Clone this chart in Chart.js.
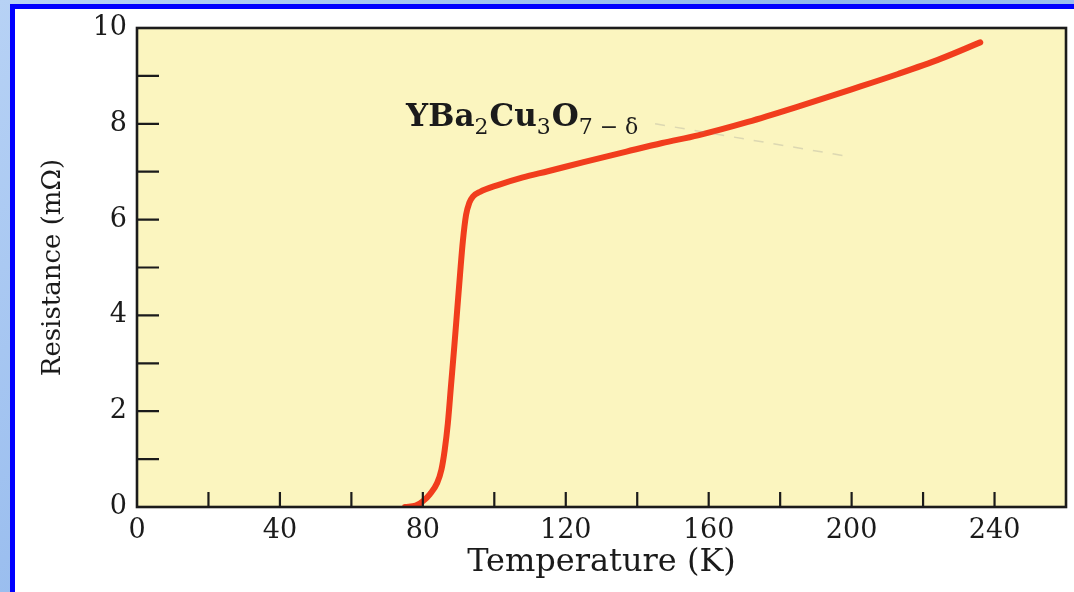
<!DOCTYPE html>
<html>
<head>
<meta charset="utf-8">
<script src="https://cdn.jsdelivr.net/npm/chart.js@4"></script>
<style>
  html, body { margin: 0; padding: 0; }
  body {
    width: 1074px; height: 592px; overflow: hidden; position: relative;
    background: linear-gradient(135deg, #b7d2f5 0%, #8fb6ec 50%, #b7d2f5 100%);
  }
  #frame {
    position: absolute; left: 10px; top: 4px; right: 0; bottom: 0;
    border-left: 5px solid #0000ff; border-top: 5px solid #0000ff;
    background: #ffffff;
  }
  #wrap { position: absolute; left: 0; top: 0; width: 1074px; height: 592px; }
</style>
</head>
<body>
<div id="frame"></div>
<div id="wrap"><canvas id="rtChart" width="1074" height="592"></canvas></div>
<script>
// =========================
// DATA
// =========================
const temperature = [75, 78, 80, 82, 84, 85.2, 86.1, 87, 87.9, 88.8, 89.6, 90.4, 91.2, 92.1, 93,
                     94, 96, 101, 108, 115, 125, 137, 147, 157, 171, 185, 200, 213, 225, 236];
const resistance  = [0, 0.03, 0.12, 0.27, 0.5, 0.78, 1.18, 1.75, 2.55, 3.35, 4.1, 4.85, 5.55, 6.1, 6.35,
                     6.48, 6.58, 6.72, 6.88, 7.01, 7.2, 7.42, 7.6, 7.76, 8.04, 8.36, 8.72, 9.04, 9.36, 9.7];

const xTickLabels = [0, 40, 80, 120, 160, 200, 240];
const yTickLabels = [0, 2, 4, 6, 8, 10];

// label + faint leader line pointing at the curve
const formulaParts = [['YBa', false], ['2', true], ['Cu', false], ['3', true], ['O', false], ['7 \u2212 \u03b4', true]];
const formulaAt = [75.3, 7.95];
const leaderFrom = [145, 8.0];
const leaderTo = [199, 7.32];

const PAPER = '#fbf5bf';
const INK = '#1b1b1b';
const CURVE = '#f13d1d';
const SERIF = '"DejaVu Serif", serif';

// =========================
// PLUGINS
// =========================
const paperPlugin = {
    id: 'paper',
    beforeDraw(chart) {
        const { ctx, chartArea: a } = chart;
        ctx.save();
        ctx.fillStyle = PAPER;
        ctx.fillRect(a.left, a.top, a.right - a.left, a.bottom - a.top);
        ctx.restore();
    }
};

const framePlugin = {
    id: 'frameTicks',
    afterDatasetsDraw(chart) {
        const { ctx, chartArea: a, scales: { x, y } } = chart;
        ctx.save();
        ctx.strokeStyle = INK;
        ctx.lineWidth = 2.6;
        ctx.strokeRect(a.left, a.top, a.right - a.left, a.bottom - a.top);

        // inward ticks
        ctx.lineWidth = 2.2;
        ctx.beginPath();
        x.ticks.forEach(t => {
            if (t.value <= x.min || t.value >= x.max) return;
            const px = x.getPixelForValue(t.value);
            ctx.moveTo(px, a.bottom);
            ctx.lineTo(px, a.bottom - 15);
        });
        y.ticks.forEach(t => {
            if (t.value <= y.min || t.value >= y.max) return;
            const py = y.getPixelForValue(t.value);
            ctx.moveTo(a.left, py);
            ctx.lineTo(a.left + 22, py);
        });
        ctx.stroke();

        // leader line
        ctx.strokeStyle = 'rgba(150,150,150,0.3)';
        ctx.lineWidth = 1.5;
        ctx.setLineDash([10, 10]);
        ctx.beginPath();
        ctx.moveTo(x.getPixelForValue(leaderFrom[0]), y.getPixelForValue(leaderFrom[1]));
        ctx.lineTo(x.getPixelForValue(leaderTo[0]), y.getPixelForValue(leaderTo[1]));
        ctx.stroke();
        ctx.setLineDash([]);

        // formula label with subscripts
        let px = x.getPixelForValue(formulaAt[0]);
        const py = y.getPixelForValue(formulaAt[1]);
        ctx.fillStyle = INK;
        ctx.textBaseline = 'alphabetic';
        formulaParts.forEach(([txt, sub]) => {
            ctx.font = sub ? '22px ' + SERIF : 'bold 31px ' + SERIF;
            ctx.fillText(txt, px, sub ? py + 8 : py);
            px += ctx.measureText(txt).width + (sub ? 1 : 0);
        });
        ctx.restore();
    }
};

// =========================
// CHART
// =========================
const ctx = document.getElementById('rtChart');

new Chart(ctx, {
    type: 'line',
    data: {
        datasets: [{
            label: 'YBa2Cu3O7-d',
            data: temperature.map((t, i) => ({ x: t, y: resistance[i] })),
            borderColor: CURVE,
            borderWidth: 6,
            borderCapStyle: 'round',
            borderJoinStyle: 'round',
            pointRadius: 0,
            cubicInterpolationMode: 'monotone',
            fill: false
        }]
    },
    options: {
        responsive: false,
        animation: false,
        layout: { padding: { left: 0, top: 28, right: 5, bottom: 0 } },
        plugins: { legend: { display: false }, tooltip: { enabled: false } },
        scales: {
            x: {
                type: 'linear',
                min: 0, max: 260,
                grid: { display: false, drawTicks: false },
                border: { display: false },
                afterFit(s) { s.height = 85; },
                ticks: {
                    stepSize: 20,
                    autoSkip: false,
                    maxRotation: 0,
                    padding: 8,
                    color: INK,
                    font: { family: SERIF, size: 27 },
                    callback: v => xTickLabels.includes(v) ? String(v) : ''
                },
                title: {
                    display: true,
                    text: 'Temperature (K)',
                    color: INK,
                    font: { family: SERIF, size: 32 },
                    padding: { top: 0, bottom: 10 }
                }
            },
            y: {
                min: 0, max: 10,
                grid: { display: false, drawTicks: false },
                border: { display: false },
                afterFit(s) { s.width = 137; },
                ticks: {
                    stepSize: 1,
                    autoSkip: false,
                    padding: 10,
                    color: INK,
                    font: { family: SERIF, size: 27 },
                    callback: v => yTickLabels.includes(v) ? String(v) : ''
                },
                title: {
                    display: true,
                    text: 'Resistance (m\u03a9)',
                    color: INK,
                    font: { family: SERIF, size: 26 },
                    padding: { top: 38, bottom: 0 }
                }
            }
        }
    },
    plugins: [paperPlugin, framePlugin]
});
</script>
</body>
</html>
